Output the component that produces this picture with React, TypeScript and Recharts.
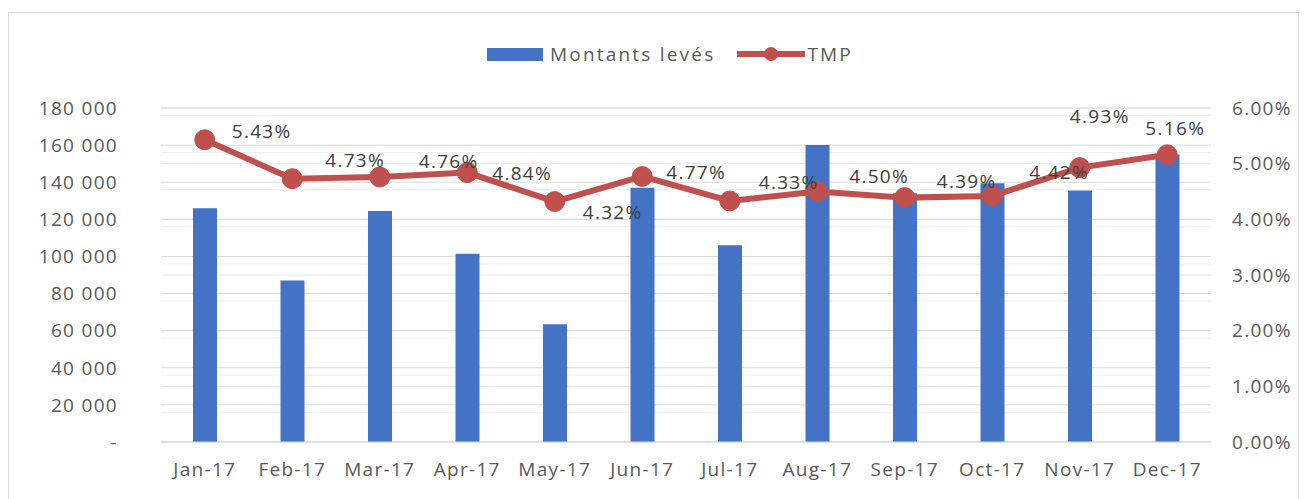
import React from 'react';
import {
  ComposedChart,
  Bar,
  Line,
  XAxis,
  YAxis,
  CartesianGrid,
  LabelList,
} from 'recharts';

const categories = ['Jan-17', 'Feb-17', 'Mar-17', 'Apr-17', 'May-17', 'Jun-17', 'Jul-17', 'Aug-17', 'Sep-17', 'Oct-17', 'Nov-17', 'Dec-17'];
const montantsLeves = [126000, 87000, 124500, 101500, 63500, 137000, 106000, 160000, 134000, 139500, 135500, 155000];
const tmpValues = [5.43, 4.73, 4.76, 4.84, 4.32, 4.77, 4.33, 4.5, 4.39, 4.42, 4.93, 5.16];
const leftTicks = [0, 20000, 40000, 60000, 80000, 100000, 120000, 140000, 160000, 180000];
const rightTicks = [0, 1, 2, 3, 4, 5, 6];
const minorLeftValues = [4000, 8000, 12000, 16000, 24000, 28000, 32000, 36000, 44000, 48000, 52000, 56000, 64000, 68000, 72000, 76000, 84000, 88000, 92000, 96000, 104000, 108000, 112000, 116000, 124000, 128000, 132000, 136000, 144000, 148000, 152000, 156000, 164000, 168000, 172000, 176000];

// label styling (Excel-like manual placement, offsets relative to each point)
const labelAnchor = ['start', 'start', 'start', 'start', 'start', 'start', 'start', 'start', 'start', 'start', 'middle', 'middle'];
const labelDx = [27, 33, 39, 25, 28, 24, 29, 32, 32, 37, 20, 8];
const labelDy = [-9, -19, -16, 0, 10, -4, -19, -16, -17, -24, -52, -27];

const data = categories.map((c, i) => ({ month: c, montants: montantsLeves[i], tmp: tmpValues[i] }));

const FONT = '"Open Sans", sans-serif';
const TEXT = '#595959';
const BLUE = '#4472C4';
const RED = '#C0504D';
const LS = 1.3;

const fmtLeft = (v: number) => (v === 0 ? '-' : `${Math.round(v / 1000)} 000`);
const fmtRight = (v: number) => `${v.toFixed(2)}%`;

const TmpLabel = (props: any) => {
  const { x, y, value, index } = props;
  return (
    <text
      x={x + (labelDx[index] ?? 28)}
      y={y + (labelDy[index] ?? -12)}
      textAnchor={(labelAnchor[index] as any) || 'start'}
      dominantBaseline="central"
      fill="#404040"
      fontFamily={FONT}
      fontSize={19}
      letterSpacing={LS}
    >
      {`${Number(value).toFixed(2)}%`}
    </text>
  );
};

const Legend = () => (
  <div
    style={{
      position: 'absolute',
      left: 479,
      top: 33,
      display: 'flex',
      alignItems: 'center',
      fontFamily: FONT,
      fontSize: 19,
      letterSpacing: 2.2,
      color: TEXT,
      whiteSpace: 'nowrap',
    }}
  >
    <div style={{ width: 56, height: 13, background: BLUE }} />
    <span style={{ marginLeft: 7 }}>Montants levés</span>
    <svg width={68} height={24} style={{ marginLeft: 22 }}>
      <line x1={0} y1={12} x2={68} y2={12} stroke={RED} strokeWidth={6} />
      <circle cx={34} cy={12} r={7} fill={RED} />
    </svg>
    <span style={{ marginLeft: 2 }}>TMP</span>
  </div>
);

export default function App() {
  return (
    <div style={{ position: 'relative', width: 1300, height: 491, background: '#fff' }}>
      <div
        style={{
          position: 'absolute',
          left: 0,
          top: 4,
          width: 1291,
          height: 495,
          borderTop: '1px solid #d9d9d9',
          borderLeft: '1px solid #d9d9d9',
          borderRight: '1px solid #d9d9d9',
          boxSizing: 'border-box',
        }}
      />
      <Legend />
      <ComposedChart width={1300} height={491} data={data} margin={{ top: 100, right: 0, bottom: 0, left: 0 }}>
        <CartesianGrid yAxisId="left" vertical={false} horizontalValues={minorLeftValues} stroke="#efefef" />
        <CartesianGrid yAxisId="right" vertical={false} stroke="#e6e6e6" />
        <CartesianGrid yAxisId="left" vertical={false} stroke="#d9d9d9" />
        <XAxis
          dataKey="month"
          height={57}
          tickSize={0}
          tickMargin={21}
          axisLine={{ stroke: '#d9d9d9' }}
          tick={{ fill: TEXT, fontFamily: FONT, fontSize: 19, letterSpacing: LS }}
          interval={0}
        />
        <YAxis
          yAxisId="left"
          orientation="left"
          width={153}
          domain={[0, 180000]}
          ticks={leftTicks}
          tickFormatter={fmtLeft}
          axisLine={false}
          tickLine={false}
          tickSize={0}
          tickMargin={43}
          tick={{ fill: TEXT, fontFamily: FONT, fontSize: 19, letterSpacing: LS }}
        />
        <YAxis
          yAxisId="right"
          orientation="right"
          width={97}
          domain={[0, 6]}
          ticks={rightTicks}
          tickFormatter={fmtRight}
          axisLine={false}
          tickLine={false}
          tickSize={0}
          tickMargin={21}
          tick={{ fill: TEXT, fontFamily: FONT, fontSize: 19, letterSpacing: LS }}
        />
        <Bar yAxisId="left" dataKey="montants" fill={BLUE} barSize={24} isAnimationActive={false} />
        <Line
          yAxisId="right"
          dataKey="tmp"
          stroke={RED}
          strokeWidth={6}
          dot={{ r: 10, fill: RED, stroke: RED, strokeWidth: 1 }}
          activeDot={false}
          isAnimationActive={false}
        >
          <LabelList dataKey="tmp" content={<TmpLabel />} />
        </Line>
      </ComposedChart>
    </div>
  );
}
